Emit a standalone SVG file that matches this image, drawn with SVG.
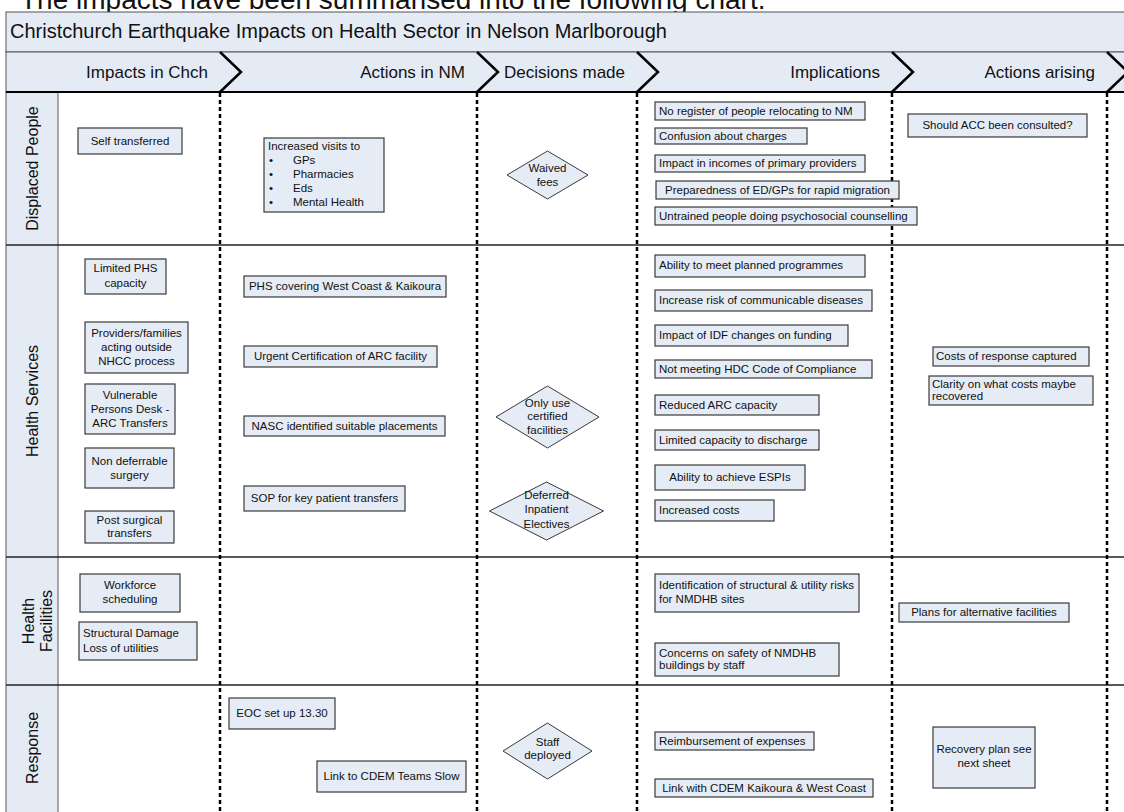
<svg xmlns="http://www.w3.org/2000/svg" width="1124" height="812" viewBox="0 0 1124 812">
  <style>
    text { font-family: "Liberation Sans", Arial, sans-serif; fill: #111; }
    .intro { font-size: 28px; }
    .title { font-size: 20px; }
    .phase { font-size: 17px; text-anchor: end; }
    .lane { font-size: 16px; text-anchor: middle; }
    .t { font-size: 11.5px; }
    .c { text-anchor: middle; }
    .box { fill: #E6ECF6; stroke: #3a3a3a; stroke-width: 1.2; }
    .dia { fill: #E6ECF6; stroke: #3a3a3a; stroke-width: 1; }
    .band { fill: #E4EBF5; stroke: #555; stroke-width: 1; }
    .rule { stroke: #222; stroke-width: 1.5; fill: none; }
    .sep { stroke: #000; stroke-width: 2.5; stroke-dasharray: 4 3; fill: none; }
    .chev { stroke: #000; stroke-width: 2.5; fill: none; stroke-linejoin: miter; }
  </style>

  <rect width="1124" height="812" fill="#fff"/>

  <!-- caption line above the chart -->
  <text class="intro" x="20" y="8.5">The impacts have been summarised into the following chart.</text>

  <!-- title band, phase header and lane label column -->
  <g id="frame">
    <rect class="band" x="6" y="12" width="1130" height="40"/>
    <text class="title" x="10" y="38">Christchurch Earthquake Impacts on Health Sector in Nelson Marlborough</text>
    <rect class="band" x="6" y="52" width="1130" height="40"/>
    <rect class="band" x="6" y="92" width="52" height="730"/>
    <line class="rule" x1="6" y1="92" x2="1124" y2="92" style="stroke:#000;stroke-width:2"/>
    <line class="rule" x1="6" y1="245" x2="1124" y2="245"/>
    <line class="rule" x1="6" y1="557" x2="1124" y2="557"/>
    <line class="rule" x1="6" y1="685" x2="1124" y2="685"/>
  </g>

  <!-- phase headings -->
  <g id="phases">
    <text class="phase" x="208" y="78">Impacts in Chch</text>
    <text class="phase" x="465" y="78">Actions in NM</text>
    <text class="phase" x="625" y="78">Decisions made</text>
    <text class="phase" x="880" y="78">Implications</text>
    <text class="phase" x="1095" y="78">Actions arising</text>
  </g>

  <!-- lane labels -->
  <g id="lane-displaced"><text class="lane" transform="translate(38 168.5) rotate(-90)">Displaced People</text></g>
  <g id="lane-services"><text class="lane" transform="translate(38 401) rotate(-90)">Health Services</text></g>
  <g id="lane-facilities">
    <text class="lane" transform="translate(34 621) rotate(-90)">Health</text>
    <text class="lane" transform="translate(52 621) rotate(-90)">Facilities</text>
  </g>
  <g id="lane-response"><text class="lane" transform="translate(38 748) rotate(-90)">Response</text></g>

  <!-- phase separators: chevrons in the header, dotted rules down the lanes -->
  <g id="connectors">
    <polyline class="chev" points="220,52 241,72 220,92"/>
    <polyline class="chev" points="477,52 498,72 477,92"/>
    <polyline class="chev" points="637,52 658,72 637,92"/>
    <polyline class="chev" points="892,52 913,72 892,92"/>
    <polyline class="chev" points="1107,52 1128,72 1107,92"/>
    <line class="sep" x1="220" y1="93" x2="220" y2="812"/>
    <line class="sep" x1="477" y1="93" x2="477" y2="812"/>
    <line class="sep" x1="637" y1="93" x2="637" y2="812"/>
    <line class="sep" x1="892" y1="93" x2="892" y2="812"/>
    <line class="sep" x1="1107" y1="93" x2="1107" y2="812"/>
  </g>

  <!-- Displaced People -->
  <g id="self-transferred">
    <rect class="box" x="78" y="128" width="104" height="26"/>
    <text class="t c" x="130" y="145">Self transferred</text>
  </g>
  <g id="increased-visits">
    <rect class="box" x="264" y="138" width="120" height="74"/>
    <text class="t" x="268" y="150">Increased visits to</text>
    <text class="t" x="269" y="164">•</text><text class="t" x="293" y="164">GPs</text>
    <text class="t" x="269" y="178">•</text><text class="t" x="293" y="178">Pharmacies</text>
    <text class="t" x="269" y="192">•</text><text class="t" x="293" y="192">Eds</text>
    <text class="t" x="269" y="206">•</text><text class="t" x="293" y="206">Mental Health</text>
  </g>
  <g id="waived-fees">
    <polygon class="dia" points="507,175 547.5,151 588,175 547.5,199"/>
    <text class="t c" x="547.5" y="172">Waived</text>
    <text class="t c" x="547.5" y="186">fees</text>
  </g>
  <g id="no-register">
    <rect class="box" x="655" y="102" width="210" height="18"/>
    <text class="t" x="659" y="115">No register of people relocating to NM</text>
  </g>
  <g id="confusion-charges">
    <rect class="box" x="655" y="128" width="152" height="16"/>
    <text class="t" x="659" y="140">Confusion about charges</text>
  </g>
  <g id="impact-incomes">
    <rect class="box" x="655" y="155" width="210" height="17"/>
    <text class="t" x="659" y="167">Impact in incomes of primary providers</text>
  </g>
  <g id="preparedness">
    <rect class="box" x="656" y="181" width="243" height="18"/>
    <text class="t c" x="777.5" y="194">Preparedness of ED/GPs for rapid migration</text>
  </g>
  <g id="untrained-counselling">
    <rect class="box" x="655" y="207" width="262" height="18"/>
    <text class="t" x="659" y="220">Untrained people doing psychosocial counselling</text>
  </g>
  <g id="acc-consulted">
    <rect class="box" x="908" y="114" width="179" height="23"/>
    <text class="t c" x="997.5" y="129">Should ACC been consulted?</text>
  </g>

  <!-- Health Services -->
  <g id="limited-phs">
    <rect class="box" x="85" y="259" width="81" height="35"/>
    <text class="t c" x="125.5" y="272">Limited PHS</text>
    <text class="t c" x="125.5" y="287">capacity</text>
  </g>
  <g id="outside-nhcc">
    <rect class="box" x="85" y="322" width="103" height="51"/>
    <text class="t c" x="136.5" y="337">Providers/families</text>
    <text class="t c" x="136.5" y="351">acting outside</text>
    <text class="t c" x="136.5" y="365">NHCC process</text>
  </g>
  <g id="vulnerable-desk">
    <rect class="box" x="85" y="384" width="90" height="50"/>
    <text class="t c" x="130" y="399">Vulnerable</text>
    <text class="t c" x="130" y="413">Persons Desk -</text>
    <text class="t c" x="130" y="427">ARC Transfers</text>
  </g>
  <g id="non-deferrable">
    <rect class="box" x="85" y="448" width="89" height="40"/>
    <text class="t c" x="129.5" y="465">Non deferrable</text>
    <text class="t c" x="129.5" y="479">surgery</text>
  </g>
  <g id="post-surgical">
    <rect class="box" x="85" y="511" width="89" height="32"/>
    <text class="t c" x="129.5" y="524">Post surgical</text>
    <text class="t c" x="129.5" y="537">transfers</text>
  </g>
  <g id="phs-covering">
    <rect class="box" x="244" y="276" width="202" height="21"/>
    <text class="t c" x="345" y="290">PHS covering West Coast &amp; Kaikoura</text>
  </g>
  <g id="urgent-certification">
    <rect class="box" x="244" y="346" width="193" height="21"/>
    <text class="t c" x="340.5" y="360">Urgent Certification of ARC facility</text>
  </g>
  <g id="nasc-placements">
    <rect class="box" x="244" y="416" width="201" height="20"/>
    <text class="t c" x="344.5" y="430">NASC identified suitable placements</text>
  </g>
  <g id="sop-transfers">
    <rect class="box" x="244" y="486" width="161" height="25"/>
    <text class="t c" x="324.5" y="502">SOP for key patient transfers</text>
  </g>
  <g id="certified-only">
    <polygon class="dia" points="496,417 547.5,386 599,417 547.5,448"/>
    <text class="t c" x="547.5" y="407">Only use</text>
    <text class="t c" x="547.5" y="420">certified</text>
    <text class="t c" x="547.5" y="434">facilities</text>
  </g>
  <g id="deferred-electives">
    <polygon class="dia" points="489.5,511 546.5,482 603.5,511 546.5,540"/>
    <text class="t c" x="546.5" y="499">Deferred</text>
    <text class="t c" x="546.5" y="513">Inpatient</text>
    <text class="t c" x="546.5" y="528">Electives</text>
  </g>
  <g id="planned-programmes">
    <rect class="box" x="655" y="255" width="210" height="22"/>
    <text class="t" x="659" y="269">Ability to meet planned programmes</text>
  </g>
  <g id="communicable-risk">
    <rect class="box" x="655" y="290" width="217" height="21"/>
    <text class="t" x="659" y="304">Increase risk of communicable diseases</text>
  </g>
  <g id="idf-funding">
    <rect class="box" x="655" y="325" width="193" height="21"/>
    <text class="t" x="659" y="339">Impact of IDF changes on funding</text>
  </g>
  <g id="hdc-code">
    <rect class="box" x="655" y="360" width="217" height="18"/>
    <text class="t" x="659" y="373">Not meeting HDC Code of Compliance</text>
  </g>
  <g id="reduced-arc">
    <rect class="box" x="655" y="395" width="164" height="20"/>
    <text class="t" x="659" y="409">Reduced ARC capacity</text>
  </g>
  <g id="limited-discharge">
    <rect class="box" x="655" y="430" width="164" height="20"/>
    <text class="t" x="659" y="444">Limited capacity to discharge</text>
  </g>
  <g id="achieve-espis">
    <rect class="box" x="655" y="465" width="150" height="25"/>
    <text class="t c" x="730" y="481">Ability to achieve ESPIs</text>
  </g>
  <g id="increased-costs">
    <rect class="box" x="655" y="500" width="119" height="21"/>
    <text class="t" x="659" y="514">Increased costs</text>
  </g>
  <g id="costs-captured">
    <rect class="box" x="933" y="347" width="156" height="19"/>
    <text class="t" x="936" y="360">Costs of response captured</text>
  </g>
  <g id="costs-recovered">
    <rect class="box" x="929" y="376" width="164" height="29"/>
    <text class="t" x="932" y="388">Clarity on what costs maybe</text>
    <text class="t" x="932" y="400">recovered</text>
  </g>

  <!-- Health Facilities -->
  <g id="workforce-scheduling">
    <rect class="box" x="80" y="574" width="100" height="38"/>
    <text class="t c" x="130" y="589">Workforce</text>
    <text class="t c" x="130" y="603">scheduling</text>
  </g>
  <g id="structural-damage">
    <rect class="box" x="79" y="622" width="118" height="38"/>
    <text class="t" x="83" y="637">Structural Damage</text>
    <text class="t" x="83" y="652">Loss of utilities</text>
  </g>
  <g id="structural-risks">
    <rect class="box" x="655" y="574" width="204" height="38"/>
    <text class="t" x="659" y="589">Identification of structural &amp; utility risks</text>
    <text class="t" x="659" y="603">for NMDHB sites</text>
  </g>
  <g id="building-safety">
    <rect class="box" x="655" y="643" width="184" height="33"/>
    <text class="t" x="659" y="657">Concerns on safety of NMDHB</text>
    <text class="t" x="659" y="669">buildings by staff</text>
  </g>
  <g id="alternative-facilities">
    <rect class="box" x="899" y="603" width="170" height="19"/>
    <text class="t c" x="984" y="616">Plans for alternative facilities</text>
  </g>

  <!-- Response -->
  <g id="eoc-setup">
    <rect class="box" x="229" y="698" width="106" height="31"/>
    <text class="t c" x="282" y="717">EOC set up 13.30</text>
  </g>
  <g id="cdem-slow">
    <rect class="box" x="317" y="761" width="149" height="31"/>
    <text class="t c" x="391.5" y="780">Link to CDEM Teams Slow</text>
  </g>
  <g id="staff-deployed">
    <polygon class="dia" points="503,751 547.5,723 592,751 547.5,779"/>
    <text class="t c" x="547.5" y="746">Staff</text>
    <text class="t c" x="547.5" y="759">deployed</text>
  </g>
  <g id="reimbursement">
    <rect class="box" x="655" y="732" width="159" height="18"/>
    <text class="t" x="659" y="745">Reimbursement of expenses</text>
  </g>
  <g id="cdem-link">
    <rect class="box" x="655" y="779" width="218" height="18"/>
    <text class="t c" x="764" y="792">Link with CDEM Kaikoura &amp; West Coast</text>
  </g>
  <g id="recovery-plan">
    <rect class="box" x="933" y="727" width="102" height="61"/>
    <text class="t c" x="984" y="753">Recovery plan see</text>
    <text class="t c" x="984" y="767">next sheet</text>
  </g>
</svg>
